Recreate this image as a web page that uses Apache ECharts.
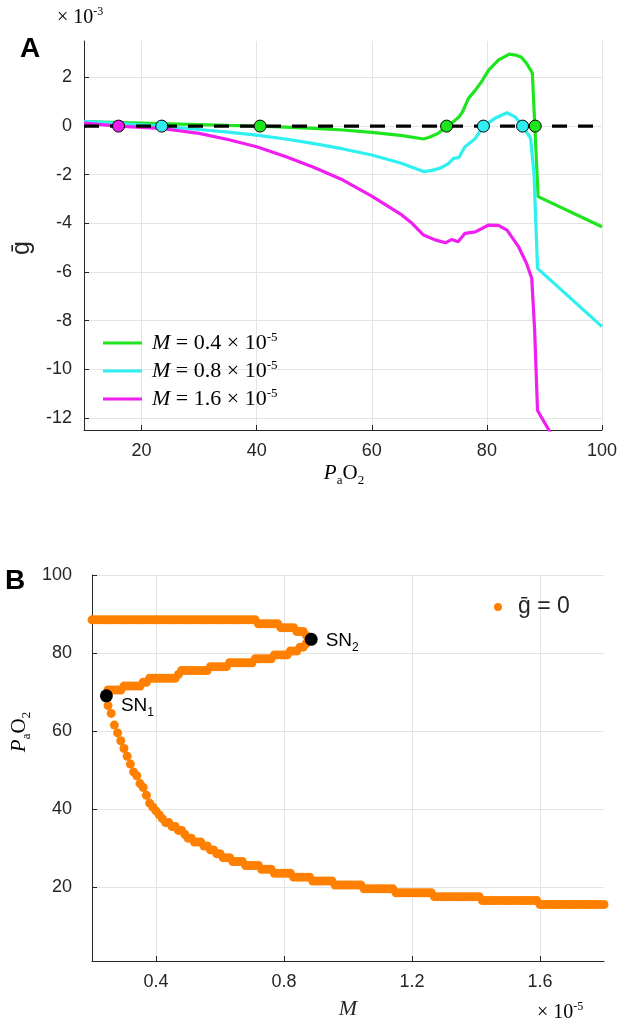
<!DOCTYPE html>
<html><head><meta charset="utf-8">
<script src="https://cdn.jsdelivr.net/npm/echarts@6/dist/echarts.min.js"></script>
<style>html,body{margin:0;padding:0;background:#fff}#c{width:620px;height:1025px}</style>
</head><body><div id="c"></div>
<script>
// ---------- Panel A data: g-bar (x 10^-3) vs PaO2 ----------
const greenCurve = [[10,0.18],[15,0.15],[20,0.12],[25,0.09],[30,0.06],[35,0.03],[40.6,0],[45,-0.04],[50,-0.09],[55,-0.16],[60,-0.26],[65,-0.38],[69,-0.53],[70,-0.46],[71.5,-0.3],[73,-0.02],[74,0.15],[75.1,0.36],[75.8,0.6],[76.8,1.14],[78,1.48],[79,1.8],[80.3,2.3],[82,2.71],[83.9,2.96],[85,2.92],[86,2.83],[86.9,2.58],[87.9,2.19],[88.9,-2.9],[100,-4.14]];
const cyanCurve = [[10,0.2],[15,0.12],[20,0.05],[23.5,0],[30,-0.14],[35,-0.25],[40,-0.37],[45,-0.53],[50,-0.72],[55,-0.94],[60,-1.19],[65,-1.52],[69,-1.87],[70.5,-1.82],[72,-1.72],[73.3,-1.54],[74.2,-1.33],[75.1,-1.3],[76.2,-0.85],[78,-0.51],[79.4,0],[81.4,0.32],[83.5,0.55],[84.9,0.38],[86.2,0],[87.6,-0.5],[88.2,-2.0],[88.8,-5.85],[100,-8.25]];
const magentaCurve = [[10,0.12],[13,0.06],[16,0],[20,-0.05],[23.5,-0.1],[30,-0.3],[35,-0.55],[40,-0.85],[45,-1.25],[50,-1.7],[55,-2.22],[60,-2.88],[65,-3.62],[67,-4.0],[69,-4.48],[71,-4.68],[72.8,-4.8],[73.9,-4.66],[75,-4.76],[76.2,-4.41],[78,-4.35],[80.3,-4.07],[82,-4.08],[83.5,-4.28],[85.5,-4.96],[86.9,-5.65],[87.8,-6.27],[88.3,-8.4],[88.8,-11.7],[92,-13.0]];
const greenRoots = [40.6, 73.0, 88.4];
const cyanRoots = [23.5, 79.4, 86.2];
const magentaRoots = [16.0];
const zeroLine = [[10,0],[100,0]];
const seriesNames = ['M04','M08','M16'];
const mValues = ['0.4','0.8','1.6'];
const xTicksA = [20,40,60,80,100];
const yTicksA = [-12,-10,-8,-6,-4,-2,0,2];

// ---------- Panel B data: PaO2 roots of g-bar = 0 vs M (x 10^-5) ----------
const mGrid = [
 0.20,0.21,0.22,0.23,0.24,0.25,0.26,0.27,0.28,0.29,
 0.30,0.31,0.32,0.33,0.34,0.35,0.36,0.37,0.38,0.39,
 0.40,0.41,0.42,0.43,0.44,0.45,0.46,0.47,0.48,0.49,
 0.50,0.51,0.52,0.53,0.54,0.55,0.56,0.57,0.58,0.59,
 0.60,0.61,0.62,0.63,0.64,0.65,0.66,0.67,0.68,0.69,
 0.70,0.71,0.72,0.73,0.74,0.75,0.76,0.77,0.78,0.79,
 0.80,0.81,0.82,0.83,0.84,0.85,0.86,0.87,0.88,0.89,
 0.90,0.91,0.92,0.93,0.94,0.95,0.96,0.97,0.98,0.99,
 1.00,1.01,1.02,1.03,1.04,1.05,1.06,1.07,1.08,1.09,
 1.10,1.11,1.12,1.13,1.14,1.15,1.16,1.17,1.18,1.19,
 1.20,1.21,1.22,1.23,1.24,1.25,1.26,1.27,1.28,1.29,
 1.30,1.31,1.32,1.33,1.34,1.35,1.36,1.37,1.38,1.39,
 1.40,1.41,1.42,1.43,1.44,1.45,1.46,1.47,1.48,1.49,
 1.50,1.51,1.52,1.53,1.54,1.55,1.56,1.57,1.58,1.59,
 1.60,1.61,1.62,1.63,1.64,1.65,1.66,1.67,1.68,1.69,
 1.70,1.71,1.72,1.73,1.74,1.75,1.76,1.77,1.78,1.79,
 1.80];
const upperStartM = 0.20;
const upperPaO2 = [
 88.5,88.5,88.5,88.5,88.5,88.5,88.5,88.5,88.5,88.5,
 88.5,88.5,88.5,88.5,88.5,88.5,88.5,88.5,88.5,88.5,
 88.5,88.5,88.5,88.5,88.5,88.5,88.5,88.5,88.5,88.5,
 88.5,88.5,88.5,88.5,88.5,88.5,88.5,88.5,88.5,88.5,
 88.5,88.5,88.5,88.5,88.5,88.5,88.5,88.5,88.5,88.5,
 88.5,88.5,87.5,87.5,87.5,87.5,87.5,87.5,87.5,86.5,
 86.5,86.5,86.5,86.5,85.5,85.5,85.5,84.5,83.5];
const middleStartM = 0.25;
const middlePaO2 = [
 70.5,70.5,70.5,70.5,70.5,
 71.5,71.5,71.5,71.5,71.5,71.5,72.5,72.5,73.5,73.5,
 73.5,73.5,73.5,73.5,73.5,73.5,73.5,74.5,75.5,75.5,
 75.5,75.5,75.5,75.5,75.5,75.5,75.5,76.5,76.5,76.5,
 76.5,76.5,76.5,77.5,77.5,77.5,77.5,77.5,77.5,77.5,
 77.5,78.5,78.5,78.5,78.5,78.5,78.5,79.5,79.5,79.5,
 79.5,79.5,80.5,80.5,80.5,81.5,81.5,82.5,83.5];
const lowerStartM = 0.25;
const lowerPaO2 = [
 66.5,64.5,61.5,59.5,57.5,
 55.5,53.5,51.5,49.5,48.5,46.5,45.5,43.5,41.5,40.5,
 39.5,38.5,37.5,36.5,36.5,35.5,35.5,34.5,34.5,33.5,
 32.5,32.5,31.5,31.5,31.5,30.5,30.5,29.5,29.5,28.5,
 28.5,27.5,27.5,27.5,26.5,26.5,26.5,26.5,25.5,25.5,
 25.5,25.5,25.5,24.5,24.5,24.5,24.5,23.5,23.5,23.5,
 23.5,23.5,23.5,22.5,22.5,22.5,22.5,22.5,22.5,21.5,
 21.5,21.5,21.5,21.5,21.5,21.5,20.5,20.5,20.5,20.5,
 20.5,20.5,20.5,20.5,20.5,19.5,19.5,19.5,19.5,19.5,
 19.5,19.5,19.5,19.5,19.5,18.5,18.5,18.5,18.5,18.5,
 18.5,18.5,18.5,18.5,18.5,18.5,18.5,17.5,17.5,17.5,
 17.5,17.5,17.5,17.5,17.5,17.5,17.5,17.5,17.5,17.5,
 17.5,17.5,16.5,16.5,16.5,16.5,16.5,16.5,16.5,16.5,
 16.5,16.5,16.5,16.5,16.5,16.5,16.5,16.5,16.5,16.5,
 15.5,15.5,15.5,15.5,15.5,15.5,15.5,15.5,15.5,15.5,
 15.5,15.5,15.5,15.5,15.5,15.5,15.5,15.5,15.5,15.5,
 15.5];
const snPoints = [[0.245,69.0],[0.885,83.5]];
const snSubs = ['1','2'];
const xTicksB = [0.4,0.8,1.2,1.6];
const yTicksB = [20,40,60,80,100];

// ---------- build ----------
const GREEN = '#1ee61e', CYAN = '#2ef0f0', MAGENTA = '#f01ef0', ORANGE = '#ff8000';
const AX = '#262626', GRIDC = '#e4e4e4';
const SANS = 'Liberation Sans, Arial, Helvetica, sans-serif';
const SERIF = 'Liberation Serif, Times New Roman, serif';

function branch(startM, vals) {
  const i0 = mGrid.findIndex(m => Math.abs(m - startM) < 1e-9);
  return vals.map((v, i) => [mGrid[i0 + i], v]);
}
const orangeDots = [].concat(branch(upperStartM, upperPaO2), branch(middleStartM, middlePaO2), branch(lowerStartM, lowerPaO2));

function axisStyle(ticks, margin) {
  return {
    axisLine: {show: true, onZero: false, lineStyle: {color: AX, width: 1}},
    axisTick: {show: true, inside: true, length: 5, customValues: ticks, lineStyle: {color: AX, width: 1}},
    axisLabel: {show: true, customValues: ticks, margin: margin, fontFamily: SANS, fontSize: 18, color: AX},
    splitLine: {show: true, lineStyle: {color: GRIDC, width: 1}},
    splitArea: {show: false}
  };
}

const colors = [GREEN, CYAN, MAGENTA];
const curves = [greenCurve, cyanCurve, magentaCurve];
const roots = [greenRoots, cyanRoots, magentaRoots];

const series = [];
curves.forEach((c, k) => series.push({
  type: 'line', name: seriesNames[k], xAxisIndex: 0, yAxisIndex: 0, data: c,
  symbol: 'none', showSymbol: false, smooth: false, clip: true,
  lineStyle: {color: colors[k], width: 3.2}, itemStyle: {color: colors[k]}, z: 2
}));
series.push({
  type: 'line', name: 'zero', xAxisIndex: 0, yAxisIndex: 0, data: zeroLine,
  symbol: 'none', lineStyle: {color: '#000', width: 3.2, type: [15, 11]}, z: 3
});
roots.forEach((r, k) => series.push({
  type: 'scatter', name: 'root' + k, xAxisIndex: 0, yAxisIndex: 0,
  data: r.map(x => [x, 0]), symbol: 'circle', symbolSize: 12,
  itemStyle: {color: colors[k], borderColor: '#000', borderWidth: 1, opacity: 1}, z: 4
}));
series.push({
  type: 'scatter', name: 'ḡ = 0', xAxisIndex: 1, yAxisIndex: 1, data: orangeDots,
  symbol: 'circle', symbolSize: 9, itemStyle: {color: ORANGE, opacity: 1}, z: 2
});
series.push({
  type: 'scatter', name: 'SN', xAxisIndex: 1, yAxisIndex: 1,
  data: snPoints.map((p, i) => ({
    value: p,
    label: {show: true, position: 'right', distance: 8, offset: i === 0 ? [0, 10] : [0, 1],
      formatter: '{a|SN}{b|' + snSubs[i] + '}'}
  })),
  symbol: 'circle', symbolSize: 13, itemStyle: {color: '#000', opacity: 1}, z: 5,
  label: {rich: {
    a: {fontFamily: SANS, fontSize: 19, color: '#000', lineHeight: 26, verticalAlign: 'middle'},
    b: {fontFamily: SANS, fontSize: 12, color: '#000', lineHeight: 26, verticalAlign: 'bottom', padding: [0,0,0,0]}
  }}
});

const supRich = {
  t: {fontFamily: SERIF, fontSize: 20, color: AX, lineHeight: 24, verticalAlign: 'middle'},
  s: {fontFamily: SERIF, fontSize: 12, color: AX, lineHeight: 24, verticalAlign: 'top'}
};
const paRich = {
  p: {fontFamily: SERIF, fontStyle: 'italic', fontSize: 21, color: AX, lineHeight: 28, verticalAlign: 'middle'},
  o: {fontFamily: SERIF, fontSize: 21, color: AX, lineHeight: 28, verticalAlign: 'middle'},
  s: {fontFamily: SERIF, fontSize: 13, color: AX, lineHeight: 28, verticalAlign: 'bottom'}
};

const option = {
  animation: false,
  backgroundColor: '#fff',
  grid: [
    {left: 84, top: 41, width: 520, height: 389, containLabel: false},
    {left: 92, top: 575, width: 512, height: 386, containLabel: false}
  ],
  xAxis: [
    Object.assign({type: 'value', gridIndex: 0, min: 10, max: 100}, axisStyle(xTicksA, 12)),
    Object.assign({type: 'value', gridIndex: 1, min: 0.2, max: 1.8}, axisStyle(xTicksB, 12))
  ],
  yAxis: [
    Object.assign({type: 'value', gridIndex: 0, min: -12.5, max: 3.5}, axisStyle(yTicksA, 12)),
    Object.assign({type: 'value', gridIndex: 1, min: 1, max: 100}, axisStyle(yTicksB, 20))
  ],
  legend: [
    {
      data: seriesNames, orient: 'vertical', left: 103, top: 331, padding: 0, itemGap: 5,
      icon: 'rect', itemWidth: 39, itemHeight: 3, selectedMode: false,
      formatter: name => '{m|M}{t| = ' + mValues[seriesNames.indexOf(name)] + ' × 10}{s|-5}',
      textStyle: {padding: [0, 0, 0, 5], rich: {
        m: {fontFamily: SERIF, fontStyle: 'italic', fontSize: 22, color: '#000', lineHeight: 24, verticalAlign: 'middle'},
        t: {fontFamily: SERIF, fontSize: 22, color: '#000', lineHeight: 24, verticalAlign: 'middle'},
        s: {fontFamily: SERIF, fontSize: 13, color: '#000', lineHeight: 24, verticalAlign: 'top'}
      }}
    },
    {
      data: ['ḡ = 0'], left: 494, top: 593, padding: 0, icon: 'circle', itemWidth: 8, itemHeight: 8,
      selectedMode: false,
      textStyle: {fontFamily: SANS, fontSize: 23, color: AX, lineHeight: 28, padding: [0, 0, 0, 11]}
    }
  ],
  graphic: [
    {type: 'text', x: 30, y: 49, style: {text: 'A', font: 'bold 28px ' + SANS, fill: '#000', align: 'center', verticalAlign: 'middle'}},
    {type: 'text', x: 15, y: 581, style: {text: 'B', font: 'bold 28px ' + SANS, fill: '#000', align: 'center', verticalAlign: 'middle'}},
    {type: 'text', x: 57, y: 18, style: {text: '{t|× 10}{s|-3}', rich: supRich, align: 'left', verticalAlign: 'middle'}},
    {type: 'text', x: 537, y: 1013, style: {text: '{t|× 10}{s|-5}', rich: supRich, align: 'left', verticalAlign: 'middle'}},
    {type: 'text', x: 344, y: 473, style: {text: '{p|P}{s|a}{o|O}{s|2}', rich: paRich, align: 'center', verticalAlign: 'middle'}},
    {type: 'text', x: 19, y: 732, rotation: Math.PI / 2, style: {text: '{p|P}{s|a}{o|O}{s|2}', rich: paRich, align: 'center', verticalAlign: 'middle'}},
    {type: 'text', x: 348, y: 1009, style: {text: 'M', font: 'italic 22px ' + SERIF, fill: AX, align: 'center', verticalAlign: 'middle'}},
    {type: 'text', x: 22, y: 248, rotation: Math.PI / 2, style: {text: 'ḡ', font: '25px ' + SANS, fill: AX, align: 'center', verticalAlign: 'middle'}}
  ],
  series: series
};

const chart = echarts.init(document.getElementById('c'), null, {renderer: 'canvas', width: 620, height: 1025});
chart.setOption(option);
</script></body></html>
